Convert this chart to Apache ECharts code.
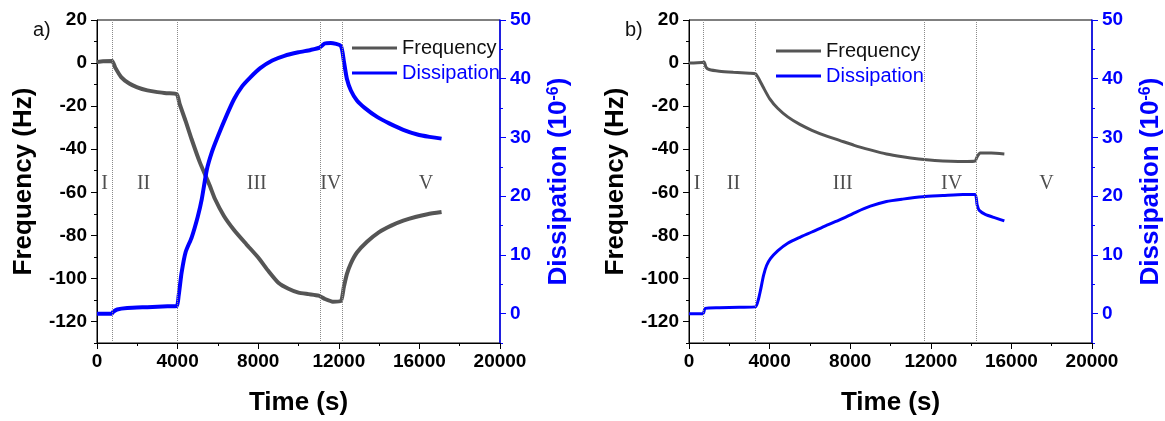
<!DOCTYPE html>
<html>
<head>
<meta charset="utf-8">
<script src="https://cdn.jsdelivr.net/npm/echarts@6/dist/echarts.min.js"></script>
<style>
  html, body { margin: 0; padding: 0; background: #fff; }
  #ec { width: 1165px; height: 421px; }
</style>
</head>
<body>
<div id="ec"></div>
<script>
// panel a) frequency (Hz) and dissipation (1e-6) vs time (s)
var aFreqT = [0, 300, 750, 900, 1200, 1600, 2000, 2500, 3000, 3500, 3960, 4100, 4400, 4700, 5100, 5600, 5850, 6300, 6800, 7400, 8000, 8500, 9000, 9500, 10000, 10500, 11000, 11300, 11700, 12100, 12250, 12400, 12600, 12900, 13400, 14000, 14600, 15200, 15800, 16400, 17100];
var aFreq = [0.5, 0.8, 1, -2, -6.5, -9.5, -11.3, -12.7, -13.5, -14, -14.5, -19, -27, -35.5, -46, -57, -63, -71, -77.5, -84, -90.3, -96.5, -102, -104.8, -106.6, -107.3, -108, -109.5, -110.8, -110.5, -104, -98, -93, -88, -83, -78.5, -75.5, -73.2, -71.5, -70.2, -69.2];
var aDissT = [0, 740, 800, 1000, 1500, 2500, 3500, 3960, 4050, 4200, 4400, 4700, 5000, 5200, 5450, 5700, 6000, 6400, 6800, 7200, 7600, 8100, 8700, 9300, 10000, 10600, 11050, 11300, 11600, 12100, 12250, 12400, 12600, 12900, 13300, 13900, 14500, 15200, 15900, 16500, 17100];
var aDiss = [0, 0, 0.3, 0.7, 0.95, 1.1, 1.25, 1.3, 3, 7, 10.5, 13, 16.5, 19.5, 24.5, 27.5, 30.2, 33.5, 36.5, 38.7, 40.2, 41.8, 43.1, 43.9, 44.5, 44.9, 45.3, 46, 46.1, 45.6, 43, 40, 38, 36.3, 35, 33.5, 32.4, 31.3, 30.5, 30.1, 29.8];
var aStages = [744, 3970, 11070, 12150];
var aStageLabelT = [380, 2310, 7930, 11600, 16330];

// panel b)
var bFreqT = [0, 650, 750, 850, 1000, 1500, 2200, 3000, 3300, 3450, 3700, 4000, 4400, 4900, 5500, 6100, 6800, 7500, 8200, 9000, 9800, 10600, 11400, 12200, 13000, 13800, 14200, 14300, 14450, 15000, 15650];
var bFreq = [0, 0.3, 0.5, -2, -3, -3.8, -4.3, -4.7, -5, -7, -11.5, -16.5, -21, -25, -28.5, -31.2, -33.8, -36, -38.2, -40.3, -42.2, -43.5, -44.5, -45.2, -45.6, -45.7, -45.5, -43.5, -41.8, -41.8, -42.2];
var bDissT = [0, 700, 800, 1500, 2500, 3300, 3450, 3550, 3700, 3850, 4050, 4400, 4900, 5500, 6100, 6800, 7500, 8300, 9000, 9800, 10600, 11600, 12600, 13600, 14200, 14300, 14400, 14700, 15200, 15650];
var bDiss = [0, 0, 0.9, 1.0, 1.1, 1.15, 2.5, 4, 6.5, 8.2, 9.4, 10.7, 12, 13, 13.9, 15, 16, 17.3, 18.3, 19.1, 19.5, 19.9, 20.1, 20.3, 20.3, 18.5, 17.6, 16.9, 16.3, 15.8];
var bStages = [694, 3300, 11660, 14240];
var bStageLabelT = [400, 2210, 7630, 13030, 17740];

var stageNames = ['I', 'II', 'III', 'IV', 'V'];
var stageLabelFreq = -56;

var BLUE = '#0000ff';
var GRAY = '#555555';
var SANS = 'Liberation Sans, Arial, sans-serif';

function pairs(t, v) {
  return t.map(function (x, i) { return [x, v[i]]; });
}

function xAxisFor(g) {
  return {
    gridIndex: g, type: 'value', min: 0, max: 20000, interval: 4000,
    axisLine: { onZero: false, lineStyle: { color: '#000', width: 1 } },
    axisTick: { length: 6, lineStyle: { color: '#000' } },
    minorTick: { show: true, splitNumber: 2, length: 3, lineStyle: { color: '#000' } },
    axisLabel: {
      color: '#000', fontSize: 19, fontWeight: 'bold', fontFamily: SANS, margin: 9,
      formatter: function (v) { return String(v); }
    },
    splitLine: { show: false },
    name: 'Time (s)', nameLocation: 'middle', nameGap: 47,
    nameTextStyle: { color: '#000', fontSize: 26, fontWeight: 'bold', fontFamily: SANS }
  };
}

function freqAxis(g) {
  return {
    gridIndex: g, type: 'value', position: 'left', min: -130, max: 20, splitNumber: 7,
    axisLine: { show: true, onZero: false, lineStyle: { color: '#000', width: 1 } },
    axisTick: { length: 6, lineStyle: { color: '#000' } },
    axisLabel: { showMinLabel: false, color: '#000', fontSize: 19, fontWeight: 'bold', fontFamily: SANS, margin: 10 },
    splitLine: { show: false },
    name: 'Frequency (Hz)', nameLocation: 'middle', nameRotate: 90, nameGap: 60,
    nameTextStyle: { color: '#000', fontSize: 26, fontWeight: 'bold', fontFamily: SANS }
  };
}

function dissAxis(g) {
  return {
    gridIndex: g, type: 'value', position: 'right', min: -5, max: 50, splitNumber: 5,
    axisLine: { show: true, onZero: false, lineStyle: { color: BLUE, width: 1.5 } },
    axisTick: { length: 6, lineStyle: { color: BLUE } },
    axisLabel: { showMinLabel: false, color: BLUE, fontSize: 19, fontWeight: 'bold', fontFamily: SANS, margin: 10 },
    splitLine: { show: false },
    name: 'Dissipation (10{sup|-6})', nameLocation: 'middle', nameRotate: 90, nameGap: 46,
    nameTextStyle: {
      color: BLUE, fontSize: 26, fontWeight: 'bold', fontFamily: SANS,
      rich: { sup: { color: BLUE, fontSize: 16, fontWeight: 'bold', fontFamily: SANS, verticalAlign: 'top' } }
    }
  };
}

// ticks-only axes for the minor ticks
function minorAxis(g, pos, min, max, step, color) {
  return {
    gridIndex: g, type: 'value', position: pos, min: min, max: max, interval: step,
    axisLine: { show: false, onZero: false },
    axisTick: { show: true, length: 3, lineStyle: { color: color } },
    axisLabel: { show: false },
    splitLine: { show: false }
  };
}

function panelSeries(g, freqT, freq, dissT, diss, stages, labelT, width) {
  var yF = g * 4, yD = g * 4 + 1;
  return [
    {
      name: 'Frequency', type: 'line', xAxisIndex: g, yAxisIndex: yF,
      data: pairs(freqT, freq), showSymbol: false, symbol: 'none', smooth: 0.2,
      lineStyle: { color: GRAY, width: width }, itemStyle: { color: GRAY },
      markLine: {
        silent: true, symbol: 'none', label: { show: false },
        lineStyle: { type: 'dotted', color: '#8a8a8a', width: 1 },
        data: stages.map(function (x) { return { xAxis: x }; })
      },
      z: 3
    },
    {
      name: 'Dissipation', type: 'line', xAxisIndex: g, yAxisIndex: yD,
      data: pairs(dissT, diss), showSymbol: false, symbol: 'none', smooth: 0.2,
      lineStyle: { color: BLUE, width: width }, itemStyle: { color: BLUE },
      z: 4
    },
    {
      type: 'scatter', xAxisIndex: g, yAxisIndex: yF, silent: true,
      symbolSize: 1, itemStyle: { color: 'rgba(0,0,0,0)' },
      data: labelT.map(function (t, i) { return { value: [t, stageLabelFreq], name: stageNames[i] }; }),
      label: {
        show: true, position: 'inside', formatter: '{b}',
        color: '#222', fontSize: 20, fontFamily: 'Liberation Serif, Times New Roman, serif'
      }
    }
  ];
}

function legendFor(left, top) {
  return {
    left: left, top: top, orient: 'vertical', icon: 'rect',
    itemWidth: 45, itemHeight: 3, itemGap: 5, selectedMode: false,
    textStyle: { fontSize: 20, fontFamily: SANS },
    data: [
      { name: 'Frequency', textStyle: { color: '#111' } },
      { name: 'Dissipation', textStyle: { color: BLUE } }
    ]
  };
}

var chart = echarts.init(document.getElementById('ec'));
chart.setOption({
  backgroundColor: '#fff',
  animation: false,
  grid: [
    { left: 97, top: 20, width: 403, height: 325, show: true, borderColor: '#000', borderWidth: 1 },
    { left: 689, top: 20, width: 403, height: 325, show: true, borderColor: '#000', borderWidth: 1 }
  ],
  xAxis: [xAxisFor(0), xAxisFor(1)],
  yAxis: [
    freqAxis(0), dissAxis(0),
    minorAxis(0, 'left', -130, 20, 10, '#000'), minorAxis(0, 'right', -5, 50, 5, BLUE),
    freqAxis(1), dissAxis(1),
    minorAxis(1, 'left', -130, 20, 10, '#000'), minorAxis(1, 'right', -5, 50, 5, BLUE)
  ],
  legend: [legendFor(347, 33), legendFor(771, 36)],
  graphic: [
    { type: 'text', left: 33, top: 20, style: { text: 'a)', fontSize: 20, fontFamily: SANS, fill: '#111' } },
    { type: 'text', left: 625, top: 20, style: { text: 'b)', fontSize: 20, fontFamily: SANS, fill: '#111' } }
  ],
  series: []
    .concat(panelSeries(0, aFreqT, aFreq, aDissT, aDiss, aStages, aStageLabelT, 4))
    .concat(panelSeries(1, bFreqT, bFreq, bDissT, bDiss, bStages, bStageLabelT, 3))
});
</script>
</body>
</html>
